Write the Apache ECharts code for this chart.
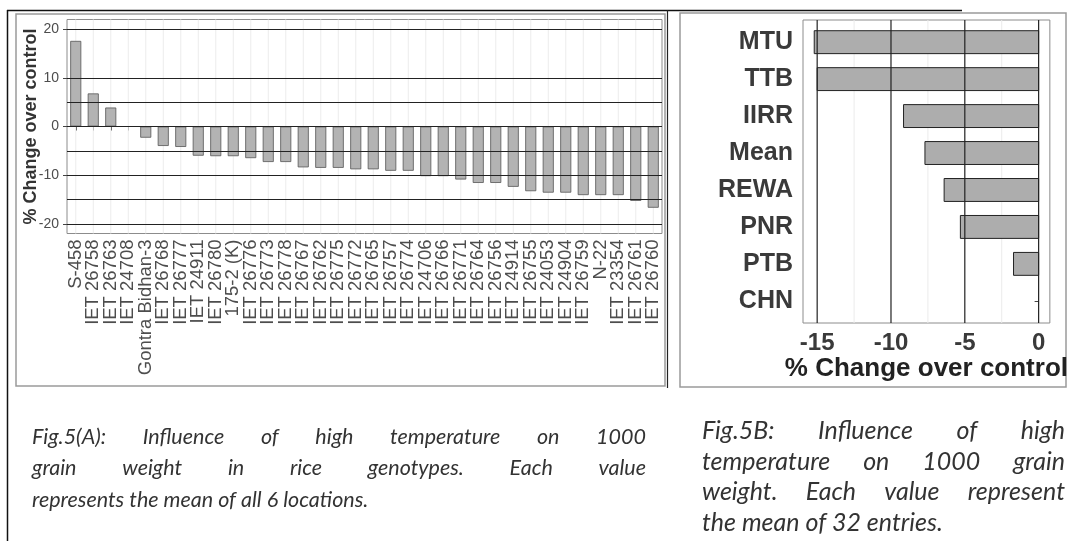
<!DOCTYPE html>
<html>
<head>
<meta charset="utf-8">
<script src="https://cdn.jsdelivr.net/npm/echarts@6/dist/echarts.min.js"></script>
<style>
  html, body { margin: 0; padding: 0; background: #fff; }
  #chart { width: 1071px; height: 541px; }
</style>
</head>
<body>
<div id="chart"></div>
<script>
// Fig. 5A: % change of 1000 grain weight per genotype
const genotypes = ['S-458', 'IET 26758', 'IET 26763', 'IET 24708', 'Gontra Bidhan-3', 'IET 26768',
  'IET 26777', 'IET 24911', 'IET 26780', '175-2 (K)', 'IET 26776', 'IET 26773', 'IET 26778',
  'IET 26767', 'IET 26762', 'IET 26775', 'IET 26772', 'IET 26765', 'IET 26757', 'IET 26774',
  'IET 24706', 'IET 26766', 'IET 26771', 'IET 26764', 'IET 26756', 'IET 24914', 'IET 26755',
  'IET 24053', 'IET 24904', 'IET 26759', 'N-22', 'IET 23354', 'IET 26761', 'IET 26760'];
const genotypeChange = [17.6, 6.8, 3.9, 0, -2.3, -4.0, -4.2, -6.0, -6.1, -6.1, -6.5, -7.3, -7.3,
  -8.4, -8.5, -8.5, -8.8, -8.8, -9.1, -9.1, -10.2, -10.2, -10.9, -11.6, -11.6, -12.4, -13.3,
  -13.6, -13.6, -14.1, -14.1, -14.1, -15.3, -16.7];
const genotypeTicks = [-20, -10, 0, 10, 20];
const genotypeRules = [20, 10, 5, 0, -5, -10, -15, -20];

// Fig. 5B: % change per location
const locations = ['MTU', 'TTB', 'IIRR', 'Mean', 'REWA', 'PNR', 'PTB', 'CHN'];
const locationChange = [-15.2, -15.0, -9.15, -7.7, -6.4, -5.3, -1.7, 0];
const locationTicks = [-15, -10, -5, 0];
const locationMinor = [-12.5, -7.5, -2.5];

const captionA = [
  'Fig.5(A): Influence of high temperature on 1000',
  'grain weight in rice genotypes. Each value',
  'represents the mean of all 6 locations.'
];
const captionB = [
  'Fig.5B: Influence of high',
  'temperature on 1000 grain',
  'weight. Each value represent',
  'the mean of 32 entries.'
];

const chart = echarts.init(document.getElementById('chart'));

// ---- caption layout helpers (justified paragraphs) ----
const measureCtx = document.createElement('canvas').getContext('2d');
function textWidth(t, font) { measureCtx.font = font; return measureCtx.measureText(t).width; }
function captionLines(lines, x0, x1, y0, lineGap, size) {
  const font = 'italic ' + size + 'px Lato, "Open Sans", sans-serif';
  const out = [];
  lines.forEach((line, li) => {
    const y = y0 + li * lineGap;
    const words = line.split(' ');
    const last = li === lines.length - 1;
    if (last || words.length < 2) {
      out.push({ type: 'text', x: x0, y: y, silent: true,
        style: { text: line, font: font, fill: '#333', textVerticalAlign: 'middle' } });
      return;
    }
    const widths = words.map(w => textWidth(w, font));
    const total = widths.reduce((a, b) => a + b, 0);
    const gap = (x1 - x0 - total) / (words.length - 1);
    let x = x0;
    words.forEach((w, wi) => {
      out.push({ type: 'text', x: x, y: y, silent: true,
        style: { text: w, font: font, fill: '#333', textVerticalAlign: 'middle' } });
      x += widths[wi] + gap;
    });
  });
  return out;
}

// full-height vertical gridline renderer for the custom series
function verticalRule(color, width) {
  return function (params, api) {
    const cs = params.coordSys;
    const x = api.coord([api.value(0), 0])[0];
    return { type: 'line', shape: { x1: x, y1: cs.y, x2: x, y2: cs.y + cs.height },
      style: { stroke: color, lineWidth: width } };
  };
}

const barHalf = 0.31;
const locationIndex = locations.map((_, i) => i);

const option = {
  backgroundColor: '#ffffff',
  animation: false,
  textStyle: { fontFamily: '"Liberation Sans", Arial, sans-serif' },
  grid: [
    { left: 67, right: 409, top: 19.5, bottom: 307.5, show: true,
      borderColor: '#8c8c8c', borderWidth: 1, backgroundColor: '#fff', containLabel: false },
    { left: 803, right: 11, top: 20, bottom: 218, show: true,
      borderColor: '#8c8c8c', borderWidth: 1, backgroundColor: '#fff', containLabel: false }
  ],
  xAxis: [
    { gridIndex: 0, type: 'category', data: genotypes,
      axisLine: { show: false },
      axisTick: { show: true, alignWithLabel: true, length: 4, lineStyle: { color: '#444' } },
      axisLabel: { interval: 0, rotate: 90, margin: 6, fontSize: 18.5, color: '#4d4d4d' },
      splitLine: { show: false } },
    { gridIndex: 1, type: 'value', min: -15.96, max: 0.76,
      axisLine: { show: false },
      axisTick: { show: true, customValues: locationTicks, length: 4, lineStyle: { color: '#444' } },
      axisLabel: { customValues: locationTicks, margin: 8, fontSize: 24, fontWeight: 'bold', color: '#3a3a3a' },
      splitLine: { show: false },
      name: '% Change over control', nameLocation: 'middle', nameGap: 33, nameMoveOverlap: false,
      nameTextStyle: { fontSize: 26, fontWeight: 'bold', color: '#222' } }
  ],
  yAxis: [
    { gridIndex: 0, type: 'value', min: -22, max: 22,
      axisLine: { show: false },
      axisTick: { show: true, customValues: genotypeTicks, length: 4, lineStyle: { color: '#444' } },
      axisLabel: { customValues: genotypeTicks, margin: 8, fontSize: 14, color: '#4d4d4d' },
      splitLine: { show: false },
      name: '% Change over control', nameLocation: 'middle', nameGap: 27, nameMoveOverlap: false,
      nameTextStyle: { fontSize: 18, fontWeight: 'bold', color: '#333' } },
    { gridIndex: 1, type: 'value', inverse: true, min: -0.6, max: 7.6,
      axisLine: { show: false },
      axisTick: { show: true, customValues: locationIndex, length: 4, lineStyle: { color: '#444' } },
      axisLabel: { customValues: locationIndex, margin: 10, fontSize: 25, fontWeight: 'bold',
        color: '#3a3a3a', formatter: v => locations[Math.round(v)] },
      splitLine: { show: false } }
  ],
  series: [
    // faint vertical grid at each genotype
    { type: 'custom', xAxisIndex: 0, yAxisIndex: 0, z: 1, silent: true,
      data: genotypes.map(g => [g]), renderItem: verticalRule('#ececec', 1) },
    { type: 'bar', xAxisIndex: 0, yAxisIndex: 0, z: 2, barWidth: '63%',
      data: genotypeChange,
      itemStyle: { color: '#b3b3b3', borderColor: '#555', borderWidth: 0.8 },
      markLine: { silent: true, symbol: 'none', animation: false,
        label: { show: false },
        lineStyle: { color: '#222', width: 1.1, type: 'solid' },
        data: genotypeRules.map(v => ({ yAxis: v })) } },

    // right panel: faint minor grid
    { type: 'custom', xAxisIndex: 1, yAxisIndex: 1, z: 1, silent: true,
      data: locationMinor.map(v => [v]), renderItem: verticalRule('#ebebeb', 1) },
    // right panel: bars, with faint horizontal grid markLines at each location
    { type: 'custom', xAxisIndex: 1, yAxisIndex: 1, z: 2,
      encode: { x: 1, y: 0 },
      data: locationChange.map((v, i) => [i, v]),
      renderItem: function (params, api) {
        const i = api.value(0), v = api.value(1);
        if (v === 0) return null;
        const a = api.coord([0, i - barHalf]);
        const b = api.coord([v, i + barHalf]);
        return { type: 'rect',
          shape: { x: Math.min(a[0], b[0]), y: Math.min(a[1], b[1]),
            width: Math.abs(b[0] - a[0]), height: Math.abs(b[1] - a[1]) },
          style: { fill: '#adadad', stroke: '#222', lineWidth: 1 } };
      } },
    // right panel: dark reference lines over the bars
    { type: 'custom', xAxisIndex: 1, yAxisIndex: 1, z: 3, silent: true,
      data: locationTicks.map(v => [v]), renderItem: verticalRule('#222', 1.2) }
  ],
  graphic: [
    // page rules and figure frames
    { type: 'line', silent: true, shape: { x1: 7, y1: 10.5, x2: 962, y2: 10.5 }, style: { stroke: '#111', lineWidth: 1.5 } },
    { type: 'line', silent: true, shape: { x1: 7.5, y1: 10, x2: 7.5, y2: 541 }, style: { stroke: '#111', lineWidth: 1.5 } },
    { type: 'line', silent: true, shape: { x1: 667.5, y1: 10, x2: 667.5, y2: 388 }, style: { stroke: '#222', lineWidth: 1.2 } },
    { type: 'rect', silent: true, shape: { x: 16, y: 14, width: 649, height: 372 }, style: { fill: 'none', stroke: '#9a9a9a', lineWidth: 1.5 } },
    { type: 'rect', silent: true, shape: { x: 680, y: 13, width: 386, height: 374 }, style: { fill: 'none', stroke: '#9a9a9a', lineWidth: 1.5 } }
  ]
    .concat(captionLines(captionA, 32, 646, 437, 31.5, 21.5))
    .concat(captionLines(captionB, 702, 1065, 431, 30.5, 25))
};

chart.setOption(option);
</script>
</body>
</html>
